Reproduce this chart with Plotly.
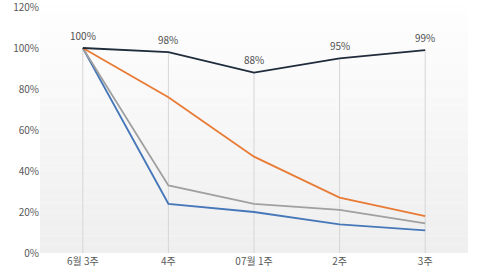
import plotly.graph_objects as go

categories = ["6월 3주", "4주", "07월 1주", "2주", "3주"]
s_navy = [100, 98, 88, 95, 99]
s_orange = [100, 76, 47, 27, 18]
s_gray = [100, 33, 24, 21, 14.5]
s_blue = [100, 24, 20, 14, 11]
y_ticks = [0, 20, 40, 60, 80, 100, 120]

fig = go.Figure()
x = list(range(len(categories)))

# drop lines from navy series to axis
dx, dy = [], []
for xi, v in zip(x, s_navy):
    dx += [xi, xi, None]
    dy += [0, v, None]
fig.add_trace(go.Scatter(x=dx, y=dy, mode="lines", line=dict(color="#d6d6d6", width=1), hoverinfo="skip"))

for vals, col in [(s_blue, "#4677b8"), (s_gray, "#a0a0a0"), (s_orange, "#e87b35"), (s_navy, "#1e2c3c")]:
    fig.add_trace(go.Scatter(x=x, y=vals, mode="lines", line=dict(color=col, width=1.8), hoverinfo="skip"))

annotations = [dict(x=xi, y=v, text=f"{v}%", showarrow=False, yshift=13,
                    font=dict(size=10, color="#505050")) for xi, v in zip(x, s_navy)]

# gradient background
n = 30
shapes = []
for i in range(n):
    t = i / n
    c = int(255 - 16 * (1 - t))
    shapes.append(dict(type="rect", xref="x domain", yref="y domain", x0=0, x1=1,
                       y0=i / n, y1=(i + 1) / n, fillcolor=f"rgb({c},{c},{c})",
                       line=dict(width=0), layer="below"))
fig.update_layout(
    width=480, height=270, margin=dict(l=40, r=12, t=6, b=17, autoexpand=False),
    paper_bgcolor="white", plot_bgcolor="white", showlegend=False, shapes=shapes,
    annotations=annotations,
    font=dict(family="Noto Sans CJK KR, Noto Sans, sans-serif", size=10, color="#595959"),
    xaxis=dict(tickvals=x, ticktext=categories, range=[-0.5, 4.5], showgrid=False,
               zeroline=False, showline=False, ticks="", ticklabelstandoff=1,
               automargin=False, ticklabeloverflow="allow",
               tickfont=dict(size=10, color="#595959")),
    yaxis=dict(range=[0, 120.5], tickvals=y_ticks, ticktext=[f"{v}%" for v in y_ticks],
               showgrid=False, zeroline=False, showline=False, ticks="",
               automargin=False, ticklabeloverflow="allow",
               tickfont=dict(size=10, color="#595959")),
)
fig.write_html("out.html")
